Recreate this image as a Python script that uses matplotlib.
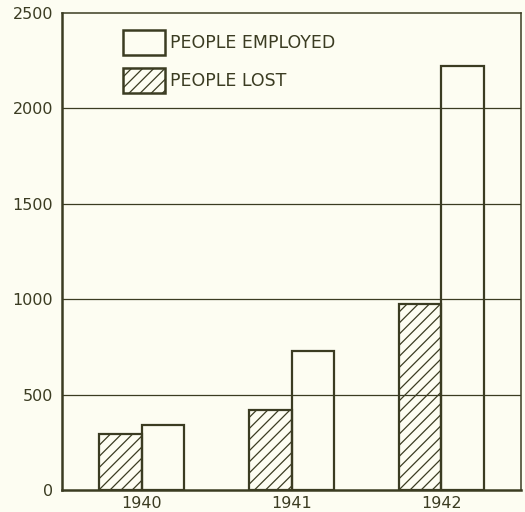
import matplotlib
matplotlib.use("Agg")
import matplotlib.pyplot as plt
import numpy as np
from matplotlib.patches import Patch

# Data
years = ["1940", "1941", "1942"]
people_lost = [292, 419, 977]
people_employed = [340, 728, 2221]
y_ticks = [0, 500, 1000, 1500, 2000, 2500]

ink = "#3b3c22"
paper = "#fdfdf2"
plt.rcParams["hatch.color"] = ink
plt.rcParams["hatch.linewidth"] = 0.9

fig = plt.figure(figsize=(5.25, 5.12), dpi=100, facecolor=paper)
ax = fig.add_axes([0.118, 0.043, 0.874, 0.932], facecolor=paper)

x = np.arange(len(years))
w = 0.283

# Hatched bars for people lost, open bars for people employed
ax.bar(x - w / 2, people_lost, width=w, facecolor="none", edgecolor=ink,
       linewidth=1.6, hatch="///", zorder=3)
ax.bar(x + w / 2, people_employed, width=w, facecolor="none", edgecolor=ink,
       linewidth=1.6, zorder=3)

ax.set_xlim(-0.531, 2.529)
ax.set_ylim(0, 2500)
ax.set_yticks(y_ticks)
ax.set_xticks(x)
ax.set_xticklabels(years)
ax.tick_params(axis="both", length=0, colors=ink, labelsize=11.5)
ax.tick_params(axis="y", pad=6.5)
ax.tick_params(axis="x", pad=4)

# horizontal grid lines
for v in y_ticks[1:-1]:
    ax.axhline(v, color=ink, linewidth=0.9, zorder=1)

for side in ["left", "bottom"]:
    ax.spines[side].set_linewidth(1.8)
    ax.spines[side].set_color(ink)
for side in ["top", "right"]:
    ax.spines[side].set_linewidth(1.1)
    ax.spines[side].set_color(ink)

handles = [
    Patch(facecolor="none", edgecolor=ink, linewidth=1.8, label="PEOPLE EMPLOYED"),
    Patch(facecolor="none", edgecolor=ink, linewidth=1.8, hatch="///", label="PEOPLE LOST"),
]
leg = ax.legend(handles=handles, loc="upper left",
                bbox_to_anchor=(122.7 / 525, 1 - 30 / 512),
                bbox_transform=fig.transFigure, frameon=False, borderpad=0,
                handlelength=2.45, handleheight=1.83, labelspacing=0.75,
                handletextpad=0.3, fontsize=12.5, borderaxespad=0)
for t in leg.get_texts():
    t.set_color(ink)

plt.savefig("out.png", dpi=100, facecolor=paper)
